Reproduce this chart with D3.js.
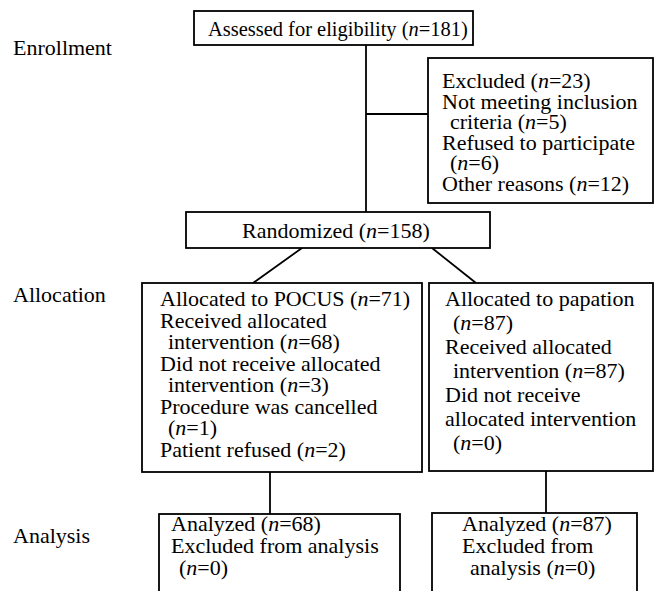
<!DOCTYPE html>
<html>
<head>
<meta charset="utf-8">
<title>CONSORT flow</title>
<style>
  body { margin: 0; background: #fff; }
  .box { fill: #fff; stroke: #000; stroke-width: 1.8; }
  .link { stroke: #000; stroke-width: 1.8; fill: none; }
  text { font-family: "Liberation Serif", "Times New Roman", serif; font-size: 22px; fill: #000; }
</style>
<script src="https://cdn.jsdelivr.net/npm/d3@7"></script>
</head>
<body>
<script>
// stage labels down the left side
var stageLabels = ["Enrollment", "Allocation", "Analysis"];

// box texts, "  " at the start = hanging indent
var assessedLines = ["Assessed for eligibility (n=181)"];
var excludedLines = ["Excluded (n=23)", "Not meeting inclusion", "  criteria (n=5)",
                     "Refused to participate", "  (n=6)", "Other reasons (n=12)"];
var randomizedLines = ["Randomized (n=158)"];
var pocusLines = ["Allocated to POCUS (n=71)", "Received allocated", "  intervention (n=68)",
                  "Did not receive allocated", "  intervention (n=3)", "Procedure was cancelled",
                  "  (n=1)", "Patient refused (n=2)"];
var palpLines = ["Allocated to papation", "  (n=87)", "Received allocated", "  intervention (n=87)",
                 "Did not receive", "allocated intervention", "  (n=0)"];
var analyzedPocusLines = ["Analyzed (n=68)", "Excluded from analysis", "  (n=0)"];
var analyzedPalpLines = ["Analyzed (n=87)", "Excluded from", "  analysis (n=0)"];

var width = 656, height = 591;

var svg = d3.select("body").append("svg")
    .attr("width", width).attr("height", height);

// box frames: tx = text left, ty = first baseline, lh = line step, sx = horizontal squeeze
var layout = [
  {x: 194, y: 11,  w: 279, h: 34,  tx: 208, ty: 36,  lh: 0,    sx: 0.93, lines: assessedLines},
  {x: 428, y: 58,  w: 225, h: 145, tx: 442, ty: 88,  lh: 20.6, sx: 1, lines: excludedLines},
  {x: 186, y: 212, w: 304, h: 36,  tx: 242, ty: 238, lh: 0,    sx: 1, lines: randomizedLines},
  {x: 142, y: 283, w: 280, h: 189, tx: 160, ty: 306, lh: 21.5, sx: 1, lines: pocusLines},
  {x: 429, y: 283, w: 224, h: 188, tx: 445, ty: 306, lh: 24,   sx: 1, lines: palpLines},
  {x: 159, y: 514, w: 241, h: 100, tx: 171, ty: 531, lh: 22,   sx: 1, lines: analyzedPocusLines},
  {x: 432, y: 513, w: 205, h: 100, tx: 462, ty: 531, lh: 22,   sx: 1, lines: analyzedPalpLines}
];

// connectors
var links = [
  [[366, 45], [366, 212]],
  [[366, 114], [428, 114]],
  [[302, 248], [253, 283]],
  [[432, 248], [476, 283]],
  [[270, 472], [270, 514]],
  [[546, 471], [546, 513]]
];
var line = d3.line();
svg.selectAll("path.link").data(links).enter().append("path")
    .attr("class", "link")
    .attr("d", function(d){ return line(d); });

// italic n in "n="
function fillLine(sel, str) {
  str.split(/(\bn(?==))/).forEach(function(p){
    if (p === "") return;
    var t = sel.append("tspan").text(p);
    if (p === "n") t.style("font-style", "italic");
  });
}

var boxes = svg.selectAll("g.node").data(layout)
    .enter().append("g").attr("class", "node");

boxes.append("rect").attr("class", "box")
    .attr("x", function(d){ return d.x; })
    .attr("y", function(d){ return d.y; })
    .attr("width", function(d){ return d.w; })
    .attr("height", function(d){ return d.h; });

boxes.each(function(d){
  var g = d3.select(this);
  d.lines.forEach(function(s, i){
    var indent = s.indexOf("  ") === 0 ? 8 : 0;
    var t = g.append("text")
        .attr("transform", "translate(" + (d.tx + indent) + "," + (d.ty + i * d.lh) + ") scale(" + d.sx + ",1)");
    fillLine(t, s.replace(/^ +/, ""));
  });
});

// stage labels
var stageY = [55, 302, 543];
svg.selectAll("text.stage").data(stageLabels).enter().append("text")
    .attr("class", "stage")
    .attr("x", 13)
    .attr("y", function(d, i){ return stageY[i]; })
    .text(function(d){ return d; });
</script>
</body>
</html>
